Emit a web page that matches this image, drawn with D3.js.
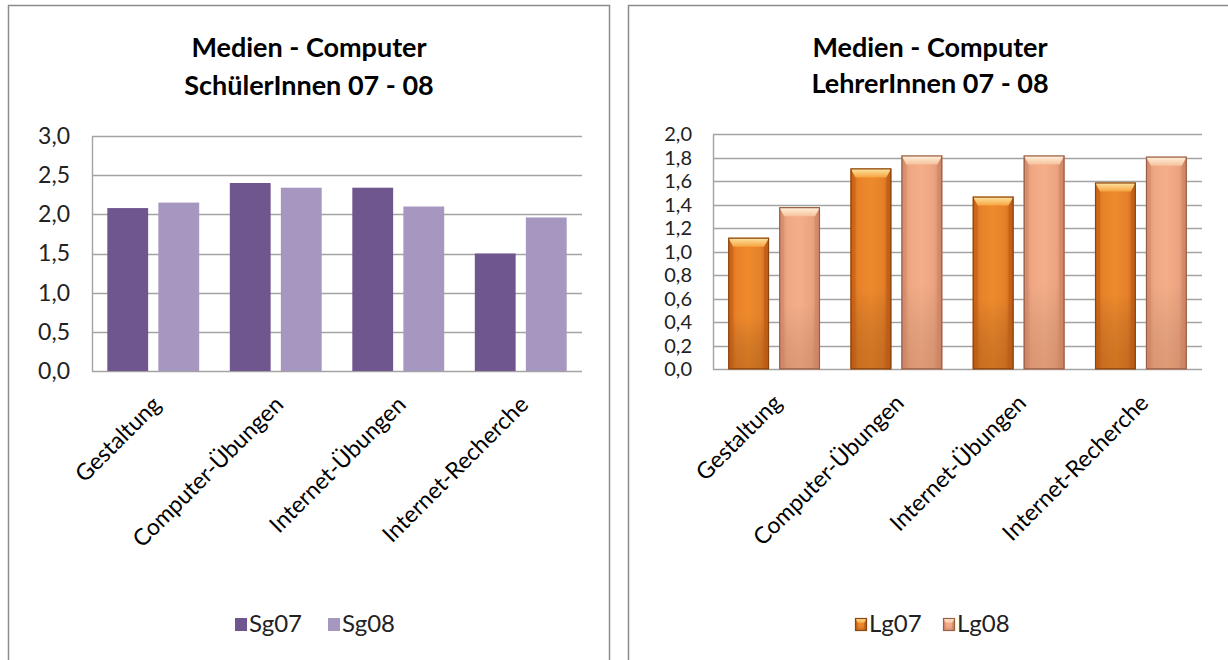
<!DOCTYPE html>
<html>
<head>
<meta charset="utf-8">
<script src="https://cdn.jsdelivr.net/npm/d3@7"></script>
<style>
  html, body { margin: 0; padding: 0; background: #ffffff; }
  svg { display: block; font-family: Lato, "Open Sans", sans-serif; }
</style>
</head>
<body>
<svg id="chart" width="1228" height="660"></svg>
<script>
// Categories shared by both panels
const categories = ["Gestaltung", "Computer-Übungen", "Internet-Übungen", "Internet-Recherche"];

// Pupils (SchülerInnen)
const pupilSeries = ["Sg07", "Sg08"];
const sg07 = [2.08, 2.40, 2.34, 1.50];
const sg08 = [2.15, 2.34, 2.10, 1.96];
const pupilTicks = [0, 0.5, 1.0, 1.5, 2.0, 2.5, 3.0];

// Teachers (LehrerInnen)
const teacherSeries = ["Lg07", "Lg08"];
const lg07 = [1.12, 1.71, 1.47, 1.59];
const lg08 = [1.38, 1.82, 1.82, 1.81];
const teacherTicks = [0, 0.2, 0.4, 0.6, 0.8, 1.0, 1.2, 1.4, 1.6, 1.8, 2.0];

const fmt = v => d3.format(".1f")(v).replace(".", ",");
const svg = d3.select("#chart");
const defs = svg.append("defs");

// Panel frames
svg.append("rect").attr("x", 8.5).attr("y", 5.5).attr("width", 601).attr("height", 700)
  .attr("fill", "#fff").attr("stroke", "#8c8c8c").attr("stroke-width", 1.5);
svg.append("rect").attr("x", 628.5).attr("y", 5.5).attr("width", 700).attr("height", 700)
  .attr("fill", "#fff").attr("stroke", "#8c8c8c").attr("stroke-width", 1.5);

// Gradients for the bevelled teacher bars
function grad(id, stops, horizontal) {
  const g = defs.append("linearGradient").attr("id", id)
    .attr("x1", 0).attr("y1", 0).attr("x2", horizontal ? 1 : 0).attr("y2", horizontal ? 0 : 1);
  stops.forEach(([o, c]) => g.append("stop").attr("offset", o).attr("stop-color", c));
}
grad("lg07body", [[0, "#d06818"], [0.2, "#e8822a"], [0.5, "#ee8a2c"], [0.8, "#e4802a"], [1, "#c05e16"]], true);
grad("lg08body", [[0, "#d69070"], [0.2, "#f0a884"], [0.5, "#f4ae88"], [0.8, "#eca480"], [1, "#cc8666"]], true);
grad("lg07shade", [[0, "rgba(0,0,0,0)"], [0.6, "rgba(0,0,0,0)"], [1, "rgba(110,50,0,0.25)"]], false);
grad("lg08shade", [[0, "rgba(0,0,0,0)"], [0.6, "rgba(0,0,0,0)"], [1, "rgba(110,50,20,0.16)"]], false);
grad("lg07cap", [[0, "#fde8a8"], [1, "#f6a440"]], false);
grad("lg08cap", [[0, "#fff4e0"], [1, "#f6c29c"]], false);

function panel(cfg) {
  const x0 = d3.scaleBand().domain(categories).range([cfg.left, cfg.right])
    .paddingInner(0.25).paddingOuter(0.125);
  const x1 = d3.scaleBand().domain(cfg.series).range([0, x0.bandwidth()]).paddingInner(0.2);
  const y = d3.scaleLinear().domain([0, cfg.max]).range([cfg.bottom, cfg.top]);

  const g = svg.append("g");

  // Title
  const title = g.append("text").attr("text-anchor", "middle").attr("font-weight", "bold")
    .attr("font-size", 27).attr("fill", "#000");
  cfg.title.forEach((t, i) => title.append("tspan").attr("x", cfg.titleX).attr("y", cfg.titleY[i]).text(t));

  // Horizontal gridlines
  g.append("g").selectAll("line").data(cfg.ticks).join("line")
    .attr("x1", cfg.left).attr("x2", cfg.right)
    .attr("y1", d => Math.round(y(d)) + 0.5).attr("y2", d => Math.round(y(d)) + 0.5)
    .attr("stroke", "#a3a3a3").attr("stroke-width", 1.4);

  // Value axis
  const yAxis = d3.axisLeft(y).tickValues(cfg.ticks).tickFormat(fmt).tickSize(0).tickPadding(cfg.tickPad);
  const ya = g.append("g").attr("transform", `translate(${cfg.left},0)`).call(yAxis);
  ya.select(".domain").attr("stroke", "#a3a3a3").attr("stroke-width", 1.4);
  ya.selectAll("text").attr("font-size", cfg.tickSize).attr("fill", "#222")
    .attr("font-family", "Lato, sans-serif");

  // Bars
  const rows = categories.map((c, i) => ({ cat: c, vals: cfg.series.map((s, j) => ({ s, j, v: cfg.data[j][i] })) }));
  const groups = g.append("g").selectAll("g").data(rows).join("g")
    .attr("transform", d => `translate(${x0(d.cat)},0)`);
  const bars = groups.selectAll("g").data(d => d.vals).join("g");
  cfg.drawBar(bars, x1, y);

  // Category labels, rotated
  const xl = g.append("g");
  xl.selectAll("text").data(categories).join("text")
    .attr("text-anchor", "end").attr("font-size", cfg.labelSize).attr("fill", "#000")
    .attr("transform", d => `translate(${x0(d) + x0.bandwidth() / 2 + cfg.labelDx},${cfg.bottom + cfg.labelDy}) rotate(-45)`)
    .text(d => d);

  // Legend
  const lg = g.append("g");
  cfg.series.forEach((s, j) => {
    const item = lg.append("g").attr("transform", `translate(${cfg.legendX[j]},${cfg.legendY})`);
    cfg.drawSwatch(item, j);
    item.append("text").attr("x", 14).attr("y", 14).attr("font-size", 24).attr("fill", "#222").text(s);
  });
}

// Pupils panel: flat fills
const pupilColors = ["#70568f", "#a697c1"];
panel({
  left: 92, right: 582, top: 136, bottom: 371, max: 3.0,
  series: pupilSeries, data: [sg07, sg08], ticks: pupilTicks,
  title: ["Medien - Computer", "SchülerInnen 07 - 08"], titleX: 309, titleY: [57, 95],
  tickPad: 22, tickSize: 23, labelSize: 23, labelDx: 9, labelDy: 35,
  legendX: [235, 328], legendY: 618,
  drawBar: (sel, x1, y) => {
    sel.append("rect")
      .attr("x", d => x1(d.s)).attr("width", x1.bandwidth())
      .attr("y", d => y(d.v)).attr("height", d => y(0) - y(d.v))
      .attr("fill", d => pupilColors[d.j]);
  },
  drawSwatch: (item, j) => {
    item.append("rect").attr("x", 0).attr("y", 0).attr("width", 12).attr("height", 13).attr("fill", pupilColors[j]);
  }
});

// Teachers panel: bevelled bars
const teacherIds = ["lg07", "lg08"];
const teacherEdge = ["#8a4510", "#9a6046"];
const teacherSide = ["#c05c14", "#d2866a"];
function bevel(sel, x, w, top, bottom, j, b, s) {
  const id = teacherIds[j];
  sel.append("rect").attr("x", x).attr("y", top).attr("width", w).attr("height", bottom - top)
    .attr("fill", `url(#${id}body)`);
  sel.append("rect").attr("x", x).attr("y", top).attr("width", w).attr("height", bottom - top)
    .attr("fill", `url(#${id}shade)`);
  // side bevels
  sel.append("polygon").attr("points", [[x, top], [x + s, top + b], [x + s, bottom], [x, bottom]].join(" "))
    .attr("fill", teacherSide[j]).attr("opacity", 0.5);
  sel.append("polygon").attr("points", [[x + w, top], [x + w - s, top + b], [x + w - s, bottom], [x + w, bottom]].join(" "))
    .attr("fill", teacherSide[j]).attr("opacity", 0.7);
  // top cap
  sel.append("polygon").attr("points", [[x, top], [x + w, top], [x + w - s, top + b], [x + s, top + b]].join(" "))
    .attr("fill", `url(#${id}cap)`);
  sel.append("rect").attr("x", x + 0.5).attr("y", top + 0.5).attr("width", w - 1).attr("height", bottom - top - 1)
    .attr("fill", "none").attr("stroke", teacherEdge[j]).attr("stroke-width", 1.2);
}
panel({
  left: 713, right: 1202, top: 134.3, bottom: 369.3, max: 2.0,
  series: teacherSeries, data: [lg07, lg08], ticks: teacherTicks,
  title: ["Medien - Computer", "LehrerInnen 07 - 08"], titleX: 930, titleY: [57, 93],
  tickPad: 21, tickSize: 20, labelSize: 23, labelDx: 9, labelDy: 35,
  legendX: [855, 943], legendY: 618,
  drawBar: (sel, x1, y) => {
    sel.each(function (d) {
      bevel(d3.select(this), x1(d.s), x1.bandwidth(), y(d.v), y(0), d.j, 9, 5);
    });
  },
  drawSwatch: (item, j) => {
    bevel(item, 0, 12, 0, 13, j, 5, 3);
  }
});
</script>
</body>
</html>
